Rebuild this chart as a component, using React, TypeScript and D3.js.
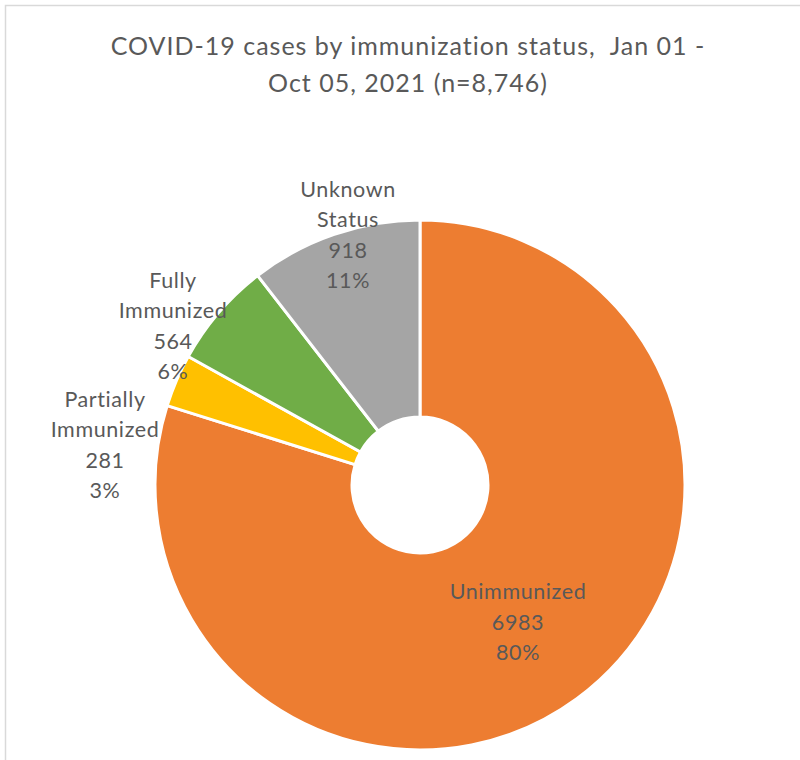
import React from "react";
import * as d3 from "d3";

const categories = ["Unimmunized", "Partially Immunized", "Fully Immunized", "Unknown Status"];
const labelLines = [["Unimmunized"], ["Partially", "Immunized"], ["Fully", "Immunized"], ["Unknown", "Status"]];
const values = [6983, 281, 564, 918];
const percents = [80, 3, 6, 11];
const colors = ["#ED7D31", "#FFC000", "#70AD47", "#A5A5A5"];
const titleLines = ["COVID-19 cases by immunization status,\u00A0 Jan 01 -", "Oct 05, 2021 (n=8,746)"];

// label layout (centre of text block, relative to chart centre)
const labelOffsets: [number, number][] = [
  [98, 137],
  [-315, -40],
  [-247, -159],
  [-72, -250],
];

const W = 800;
const H = 760;
const cx = 420;
const cy = 485;
const outerR = 265;
const innerR = 68;
const FONT = "Lato, 'Open Sans', sans-serif";

export default function App() {
  const pie = d3.pie<number>().sort(null).value((d) => d);
  const arcs = pie(values);
  const arc = d3.arc<d3.PieArcDatum<number>>().innerRadius(innerR).outerRadius(outerR);
  const lh = 30.5;

  return (
    <svg width={W} height={H} style={{ position: "absolute", left: 0, top: 0 }}>
      <rect x={0} y={0} width={W} height={H} fill="#fff" />
      <rect x={5.5} y={5.5} width={W + 10} height={H + 10} fill="none" stroke="#D9D9D9" strokeWidth={1.5} />
      <g fontFamily={FONT} fill="#595959" fontSize={25} textAnchor="middle" letterSpacing={1}>
        {titleLines.map((t, i) => (
          <text key={i} x={408} y={55 + i * 37}>{t}</text>
        ))}
      </g>
      <g transform={`translate(${cx},${cy})`}>
        {arcs.map((a, i) => (
          <path key={categories[i]} d={arc(a) || ""} fill={colors[i]} stroke="#fff" strokeWidth={3} />
        ))}
        {arcs.map((a, i) => {
          const lines = [...labelLines[i], String(values[i]), `${percents[i]}%`];
          const [ox, oy] = labelOffsets[i];
          const y0 = oy - ((lines.length - 1) * lh) / 2;
          return (
            <text key={"l" + i} fontFamily={FONT} fontSize={21.5} letterSpacing={0.6} fill="#595959" textAnchor="middle">
              {lines.map((ln, j) => (
                <tspan key={j} x={ox} y={y0 + j * lh} dy="0.35em">{ln}</tspan>
              ))}
            </text>
          );
        })}
      </g>
    </svg>
  );
}
